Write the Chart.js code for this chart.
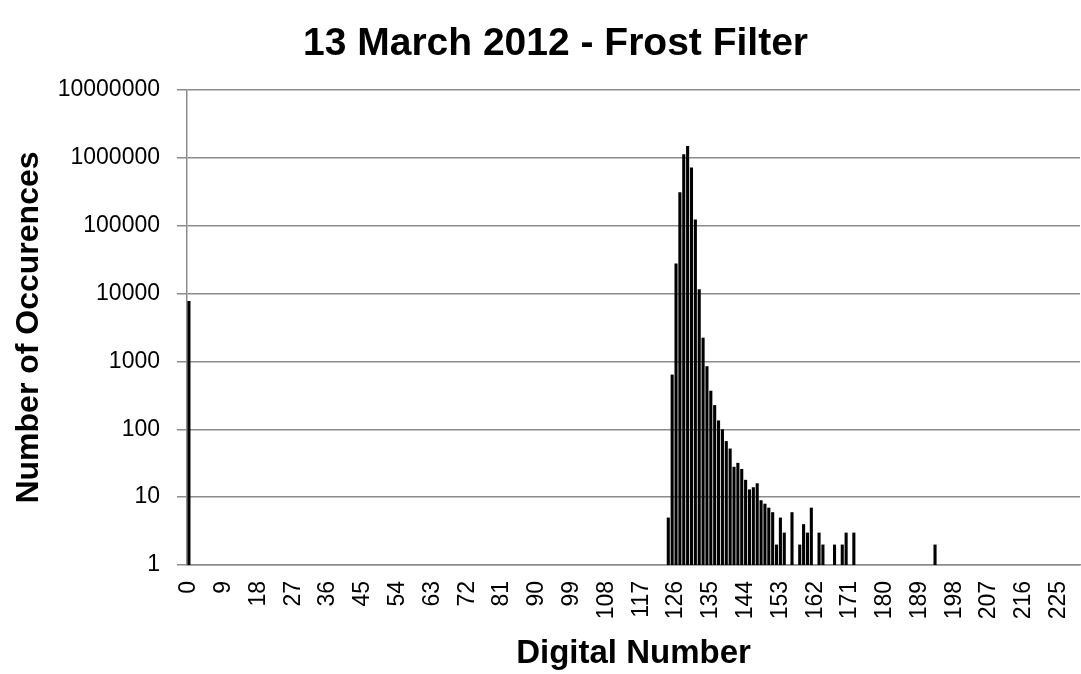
<!DOCTYPE html>
<html>
<head>
<meta charset="utf-8">
<script src="https://cdn.jsdelivr.net/npm/chart.js@4.4.1/dist/chart.umd.min.js"></script>
<style>
html,body{margin:0;padding:0;background:#fff;}
#wrap{width:1081px;height:674px;}
</style>
</head>
<body>
<div id="wrap"><canvas id="chart" width="1081" height="674"></canvas></div>
<script>
const TITLE = '13 March 2012 - Frost Filter';
const X_TITLE = 'Digital Number';
const Y_TITLE = 'Number of Occurences';

// digital numbers shown on the axis: 0..230
const BIN_COUNT = 231;
const LABEL_STEP = 9;

// non-empty bins
const BINS = [0, 124, 125, 126, 127, 128, 129, 130, 131, 132, 133, 134, 135, 136, 137, 138,
  139, 140, 141, 142, 143, 144, 145, 146, 147, 148, 149, 150, 151, 152, 153, 154,
  156, 158, 159, 160, 161, 163, 164, 167, 169, 170, 172, 193];
const COUNTS = [7800, 5, 640, 27700, 310000, 1130000, 1500000, 720000, 123000, 11600, 2240, 850, 370, 227, 135, 100,
  67, 52, 28, 32, 26, 18, 13, 14, 16, 9, 8, 7, 6, 2, 5, 3,
  6, 2, 4, 3, 7, 3, 2, 2, 2, 3, 3, 2];

const Y_TICKS = [1, 10, 100, 1000, 10000, 100000, 1000000, 10000000];

const FONT = '"Liberation Sans", Arial, sans-serif';
const GRID = '#8c8c8c';

function buildSeries(){
  const labels = [];
  const values = [];
  for(let i = 0; i < BIN_COUNT; i++){ labels.push(String(i)); values.push(null); }
  BINS.forEach((b, i) => { values[b] = COUNTS[i]; });
  return {labels, values};
}

// title centred over the plot like the original, not over the canvas
const titlePlugin = {
  id: 'plotTitle',
  afterDraw(chart){
    const ctx = chart.ctx;
    ctx.save();
    ctx.font = 'bold 39px ' + FONT;
    ctx.fillStyle = '#000';
    ctx.textAlign = 'center';
    ctx.textBaseline = 'middle';
    ctx.fillText(TITLE, chart.width / 2 + 15, 44);
    ctx.restore();
  }
};

function render(){
  const {labels, values} = buildSeries();
  Chart.defaults.font.family = FONT;
  Chart.defaults.color = '#000';

  new Chart(document.getElementById('chart').getContext('2d'), {
    type: 'bar',
    data: {labels, datasets: [{data: values, backgroundColor: '#000', barPercentage: 0.8, categoryPercentage: 1.0}]},
    options: {
      responsive: false,
      animation: false,
      devicePixelRatio: 1,
      layout: {padding: {top: 90, right: 1, left: 0, bottom: 0}},
      plugins: {legend: {display: false}, tooltip: {enabled: false}, title: {display: false}},
      scales: {
        x: {
          type: 'category',
          offset: true,
          grid: {color: 'rgba(0,0,0,0)', drawTicks: false},
          border: {display: true, color: GRID, width: 1.5},
          ticks: {
            autoSkip: false, maxRotation: 90, minRotation: 90, padding: 16,
            font: {size: 23}, color: '#000',
            callback: function(v, i){ return i % LABEL_STEP === 0 ? this.getLabelForValue(v) : ''; }
          },
          title: {display: true, text: X_TITLE, font: {size: 33, weight: 'bold'}, padding: {top: 0, bottom: 0}},
          afterFit: s => { s.height = 109; s.paddingLeft = 0; s.paddingRight = 0; }
        },
        y: {
          type: 'logarithmic',
          min: 1, max: 10000000,
          afterBuildTicks: s => { s.ticks = Y_TICKS.map(v => ({value: v})); },
          ticks: {padding: 17, font: {size: 23}, color: '#000', callback: v => String(v)},
          grid: {color: GRID, lineWidth: 1.5, tickLength: 10},
          border: {color: GRID, width: 1.5},
          title: {display: true, text: Y_TITLE, font: {size: 32, weight: 'bold'}, padding: {top: 10, bottom: 0}},
          afterFit: s => { s.width = 187; }
        }
      }
    },
    plugins: [titlePlugin]
  });
}

document.addEventListener('DOMContentLoaded', render);
</script>
</body>
</html>
